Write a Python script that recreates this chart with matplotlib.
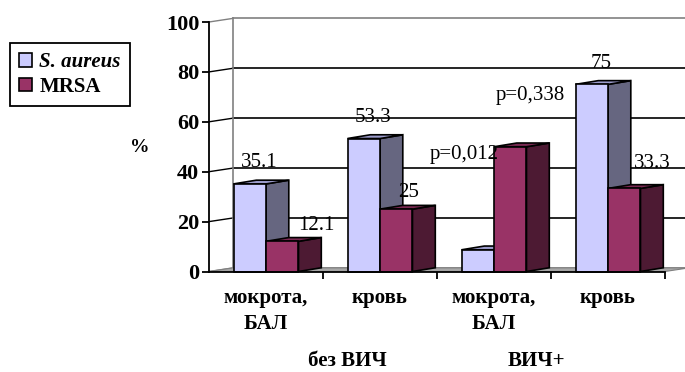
import numpy as np
import matplotlib.pyplot as plt
from matplotlib.patches import Polygon, Patch

plt.rcParams['font.family'] = ['Liberation Serif', 'DejaVu Serif']

# данные
categories = ['мокрота,\nБАЛ', 'кровь', 'мокрота,\nБАЛ', 'кровь']
groups = ['без ВИЧ', 'ВИЧ+']
s_aureus = [35.1, 53.3, 8.7, 75]
mrsa = [12.1, 25, 50, 33.3]
show_label = [True, True, False, True]
p_values = ['p=0,012', 'p=0,338']
yticks = [0, 20, 40, 60, 80, 100]

# цвета: фронт, бок, верх
col_sa = ('#CCCCFF', '#666680', '#9C9CCC')
col_mr = ('#993366', '#4D1A33', '#7A2952')

# псевдо-3D: сдвиг в глубину
DX, DY = 0.21, 1.45
BX, BY = 0.20, 1.5
W = 0.285
X0 = 0.215

fig = plt.figure(figsize=(6.85, 3.72), dpi=100)
ax = fig.add_axes([209/685, 1 - 271.5/372, 476/685, 249.5/372])
ax.set_xlim(0, 476/114)
ax.set_ylim(0, 100)
for s in ['top', 'right']:
    ax.spines[s].set_visible(False)
ax.spines['left'].set_linewidth(1.3)
ax.spines['bottom'].set_linewidth(1.3)
ax.spines['bottom'].set_bounds(0, 4)
ax.spines['left'].set_zorder(5)
ax.spines['bottom'].set_zorder(5)

ax.set_yticks(yticks)
ax.set_yticklabels([str(t) for t in yticks], fontsize=16, fontweight='bold')
ax.set_xticks([1, 2, 3, 4])
ax.set_xticklabels([])
ax.tick_params(direction='out', length=5, width=1.3, pad=2)

# задняя стенка и пол
xend = 4 + DX
for v in yticks:
    c = 'black' if 0 < v < 100 else '#808080'
    ax.plot([DX, xend], [v + DY, v + DY], color=c, lw=1.2, clip_on=False, zorder=1)
    ax.plot([0, DX], [v, v + DY], color=c, lw=1.0, clip_on=False, zorder=1)
ax.plot([DX, DX], [DY, 100 + DY], color='#808080', lw=1.2, clip_on=False, zorder=1)
ax.add_patch(Polygon([[0, 0], [4, 0], [4 + DX, DY], [DX, DY]], closed=True,
                     facecolor='#A8A8A8', edgecolor='#808080', lw=0.8,
                     clip_on=False, zorder=1))


def bar3d(x, h, cols):
    front = [[x, 0], [x + W, 0], [x + W, h], [x, h]]
    side = [[x + W, 0], [x + W + BX, BY], [x + W + BX, h + BY], [x + W, h]]
    top = [[x, h], [x + W, h], [x + W + BX, h + BY], [x + BX, h + BY]]
    for pts, fc in [(side, cols[1]), (top, cols[2]), (front, cols[0])]:
        ax.add_patch(Polygon(pts, closed=True, facecolor=fc, edgecolor='black',
                             lw=1.2, joinstyle='miter', clip_on=False, zorder=3))


for k in range(len(categories)):
    bar3d(k + X0, s_aureus[k], col_sa)
    bar3d(k + X0 + W, mrsa[k], col_mr)

# подписи значений
sa_off = (0.085, 8.5)
mr_off = [(0.30, 6.3), (0.11, 6.5), None, (0.25, 9.9)]
for k in range(len(categories)):
    if not show_label[k]:
        continue
    xs = k + X0 + W / 2
    ax.text(xs + sa_off[0], s_aureus[k] + sa_off[1], f'{s_aureus[k]:g}',
            fontsize=15, ha='center', va='center', zorder=4)
    xm = k + X0 + W * 1.5
    ax.text(xm + mr_off[k][0], mrsa[k] + mr_off[k][1], f'{mrsa[k]:g}',
            fontsize=15, ha='center', va='center', zorder=4)

ax.text(2 + X0 + W + 0.04, mrsa[2] - 3.2, p_values[0], fontsize=15,
        ha='right', va='center', zorder=4)
ax.text(2.82, mrsa[2] + 20.5, p_values[1], fontsize=15,
        ha='center', va='center', zorder=4)

# подписи категорий
for k, lab in enumerate(categories):
    ax.text(k + 0.5, -6.5, lab, fontsize=15, fontweight='bold', ha='center',
            va='top', linespacing=1.45, clip_on=False)
for gx, g in zip([1.21, 2.87], groups):
    ax.text(gx, -36, g, fontsize=15, fontweight='bold', ha='center',
            va='center', clip_on=False)

fig.text(140/685, 1 - 147/372, '%', fontsize=14, fontweight='bold',
         ha='center', va='center')

handles = [Patch(facecolor=col_sa[0], edgecolor='black', lw=1.2),
           Patch(facecolor=col_mr[0], edgecolor='black', lw=1.2)]
leg = fig.legend(handles, ['S. aureus', 'MRSA'], loc='upper left',
                 bbox_to_anchor=(10/685, 1 - 43/372), fancybox=False,
                 edgecolor='black', framealpha=1, borderaxespad=0,
                 handlelength=0.6, handleheight=0.6, handletextpad=0.35,
                 labelspacing=0.2, borderpad=0.45,
                 prop={'size': 15, 'weight': 'bold'})
leg.get_frame().set_linewidth(1.3)
leg.get_texts()[0].set_style('italic')

fig.savefig('out.png', dpi=100)
